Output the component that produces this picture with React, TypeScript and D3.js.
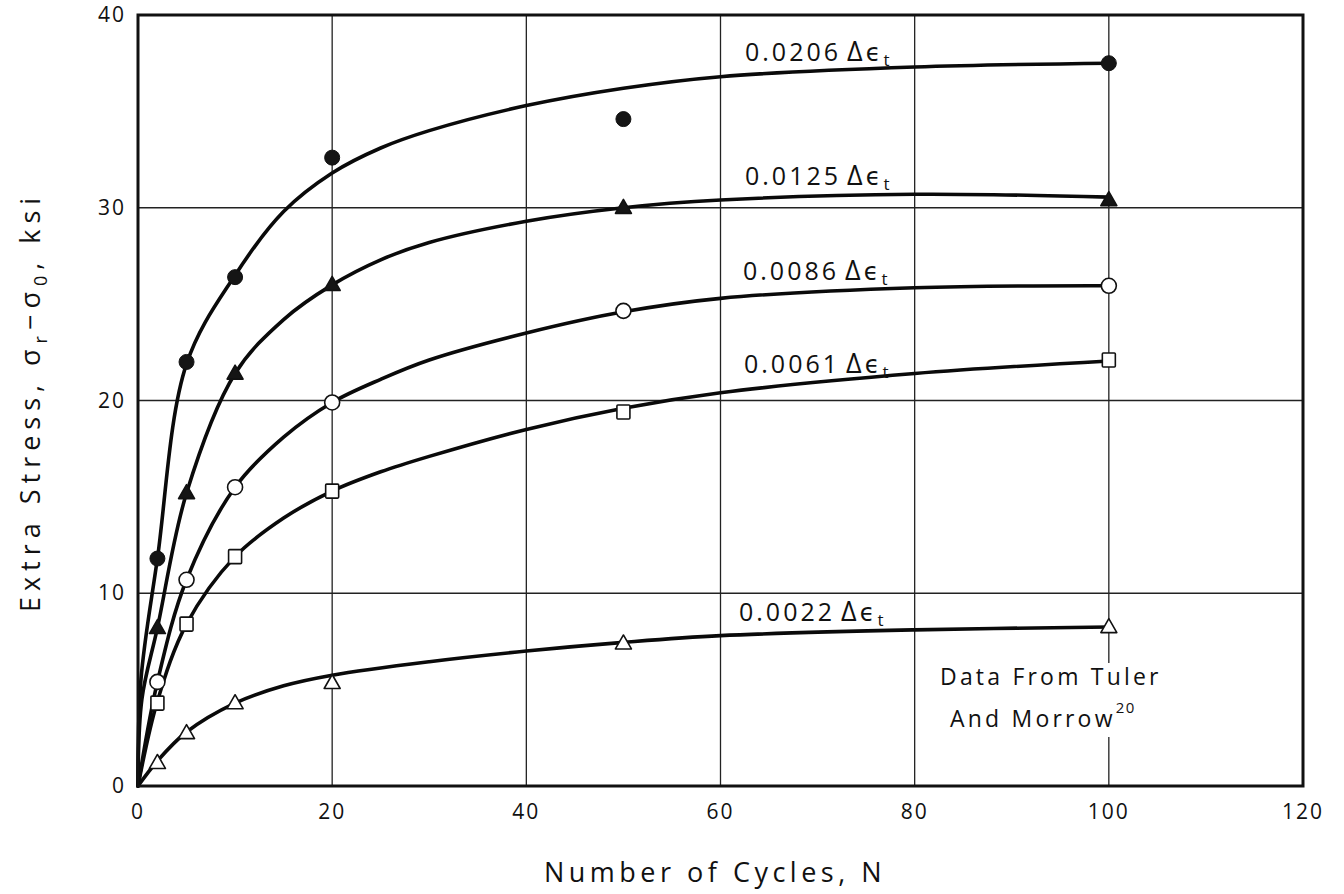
import React from "react";
import * as d3 from "d3";

// Cycle counts at which stresses were measured
const CYCLES = [2, 5, 10, 20, 50, 100];

// Measured extra stress (ksi) for each total strain range
const STRESS_0206 = [11.8, 22.0, 26.4, 32.6, 34.6, 37.5];
const STRESS_0125 = [8.2, 15.2, 21.4, 26.0, 30.0, 30.4];
const STRESS_0086 = [5.4, 10.7, 15.5, 19.9, 24.65, 25.95];
const STRESS_0061 = [4.3, 8.4, 11.9, 15.3, 19.4, 22.1];
const STRESS_0022 = [1.2, 2.75, 4.3, 5.35, 7.4, 8.25];

// Hand-faired trend curves, [N, ksi]
const FIT_0206: [number, number][] = [
  [0, 0], [0.3, 5.5], [2, 11.8], [5, 21.9], [10, 26.5], [15, 29.8], [20, 31.8],
  [25, 33.1], [30, 34.0], [40, 35.3], [50, 36.2], [60, 36.8], [80, 37.3], [100, 37.5],
];
const FIT_0125: [number, number][] = [
  [0, 0], [0.4, 4.5], [2, 8.2], [5, 15.2], [10, 21.4], [15, 24.2], [20, 26.0],
  [25, 27.3], [30, 28.2], [40, 29.3], [50, 30.0], [60, 30.4], [80, 30.7], [100, 30.55],
];
const FIT_0086: [number, number][] = [
  [0, 0], [2, 5.4], [5, 10.7], [10, 15.5], [15, 18.1], [20, 19.9], [25, 21.1],
  [30, 22.1], [40, 23.5], [50, 24.6], [60, 25.3], [80, 25.85], [100, 25.95],
];
const FIT_0061: [number, number][] = [
  [0, 0], [2, 4.4], [5, 8.4], [10, 11.9], [15, 13.9], [20, 15.3], [25, 16.3],
  [30, 17.1], [40, 18.5], [50, 19.6], [60, 20.4], [80, 21.4], [100, 22.05],
];
const FIT_0022: [number, number][] = [
  [0, 0], [2, 1.3], [5, 2.8], [10, 4.3], [15, 5.2], [20, 5.75], [30, 6.45],
  [40, 7.0], [50, 7.45], [60, 7.8], [80, 8.1], [100, 8.25],
];

// Curve label values (total strain range)
const STRAIN_LABELS = ["0.0206", "0.0125", "0.0086", "0.0061", "0.0022"];

const X_TICKS = [0, 20, 40, 60, 80, 100, 120];
const Y_TICKS = [0, 10, 20, 30, 40];

type Marker = "filledCircle" | "filledTriangle" | "openCircle" | "openSquare" | "openTriangle";

const SERIES = [
  { values: STRESS_0206, fit: FIT_0206, marker: "filledCircle" as Marker, label: STRAIN_LABELS[0], lx: 745, ly: 52 },
  { values: STRESS_0125, fit: FIT_0125, marker: "filledTriangle" as Marker, label: STRAIN_LABELS[1], lx: 745, ly: 176 },
  { values: STRESS_0086, fit: FIT_0086, marker: "openCircle" as Marker, label: STRAIN_LABELS[2], lx: 743, ly: 271 },
  { values: STRESS_0061, fit: FIT_0061, marker: "openSquare" as Marker, label: STRAIN_LABELS[3], lx: 744, ly: 364 },
  { values: STRESS_0022, fit: FIT_0022, marker: "openTriangle" as Marker, label: STRAIN_LABELS[4], lx: 739, ly: 612 },
];

const LEFT = 138;
const RIGHT = 1303;
const TOP = 15;
const BOTTOM = 786;

const FONT = "'Open Sans', 'DejaVu Sans', sans-serif";

function MarkerShape({ kind, cx, cy }: { kind: Marker; cx: number; cy: number }) {
  const stroke = "#111";
  switch (kind) {
    case "filledCircle":
      return <circle cx={cx} cy={cy} r={7.5} fill="#151515" stroke={stroke} strokeWidth={1} />;
    case "openCircle":
      return <circle cx={cx} cy={cy} r={7.5} fill="#fff" stroke={stroke} strokeWidth={1.6} />;
    case "openSquare":
      return <rect x={cx - 6.5} y={cy - 7} width={13} height={14} fill="#fff" stroke={stroke} strokeWidth={1.6} rx={1} />;
    case "filledTriangle":
    case "openTriangle": {
      const h = 14;
      const w = 16;
      const d = `M${cx},${cy - h * 0.6}L${cx + w / 2},${cy + h * 0.4}L${cx - w / 2},${cy + h * 0.4}Z`;
      return (
        <path
          d={d}
          fill={kind === "filledTriangle" ? "#151515" : "#fff"}
          stroke={stroke}
          strokeWidth={1.6}
          strokeLinejoin="round"
        />
      );
    }
  }
}

export default function App() {
  const x = d3.scaleLinear().domain([0, 120]).range([LEFT, RIGHT]);
  const y = d3.scaleLinear().domain([0, 40]).range([BOTTOM, TOP]);

  const line = d3
    .line<[number, number]>()
    .x((d) => x(d[0]))
    .y((d) => y(d[1]))
    .curve(d3.curveCatmullRom.alpha(0.5));

  return (
    <svg width={1344} height={894} style={{ display: "block", position: "absolute", left: 0, top: 0, background: "#fff" }}>
      <rect x={0} y={0} width={1344} height={894} fill="#fff" />

      {/* grid */}
      <g stroke="#222" strokeWidth={1.3}>
        {X_TICKS.filter((t) => t > 0 && t < 120).map((t) => (
          <line key={`gx${t}`} x1={x(t)} x2={x(t)} y1={TOP} y2={BOTTOM} />
        ))}
        {Y_TICKS.filter((t) => t > 0 && t < 40).map((t) => (
          <line key={`gy${t}`} x1={LEFT} x2={RIGHT} y1={y(t)} y2={y(t)} />
        ))}
      </g>

      {/* source note, knocking out the grid behind it */}
      <rect x={1085} y={663} width={70} height={74} fill="#fff" />
      <g fontFamily={FONT} fontSize={23} fill="#111" letterSpacing={3.2}>
        <text x={940} y={685}>Data From Tuler</text>
        <text x={950} y={727}>
          And Morrow
          <tspan dy={-14} fontSize={15} letterSpacing={1.5}>20</tspan>
        </text>
      </g>

      {/* faired curves */}
      <g fill="none" stroke="#0a0a0a" strokeWidth={3.6} strokeLinecap="round">
        {SERIES.map((s) => (
          <path key={`c${s.label}`} d={line(s.fit) ?? ""} />
        ))}
      </g>

      {/* frame */}
      <rect x={LEFT} y={TOP} width={RIGHT - LEFT} height={BOTTOM - TOP} fill="none" stroke="#111" strokeWidth={3} />

      {/* data points */}
      {SERIES.map((s) => (
        <g key={`m${s.label}`}>
          {s.values.map((v, i) => (
            <MarkerShape key={i} kind={s.marker} cx={x(CYCLES[i])} cy={y(v)} />
          ))}
        </g>
      ))}

      {/* curve labels */}
      <g fontFamily={FONT} fontSize={25} fill="#111" letterSpacing={3}>
        {SERIES.map((s) => (
          <text key={`l${s.label}`} x={s.lx} y={s.ly + 9}>
            {s.label}
            <tspan dx={6} fontSize={27}>Δ</tspan>
            <tspan dx={0} fontSize={24}>ϵ</tspan>
            <tspan dy={5} fontSize={17}>t</tspan>
          </text>
        ))}
      </g>

      {/* tick labels */}
      <g fontFamily={FONT} fontSize={21} fill="#111" letterSpacing={2}>
        {X_TICKS.map((t) => (
          <text key={`tx${t}`} x={x(t)} y={BOTTOM + 33} textAnchor="middle">
            {t}
          </text>
        ))}
        {Y_TICKS.map((t) => (
          <text key={`ty${t}`} x={LEFT - 12} y={y(t) + 7} textAnchor="end">
            {t}
          </text>
        ))}
      </g>

      {/* axis titles */}
      <text x={715} y={882} textAnchor="middle" fontFamily={FONT} fontSize={27} fill="#111" letterSpacing={4.5}>
        Number of Cycles, N
      </text>
      <text
        transform={`translate(40, 402) rotate(-90)`}
        textAnchor="middle"
        fontFamily={FONT}
        fontSize={27}
        fill="#111"
        letterSpacing={6}
      >
        Extra Stress, σ
        <tspan dy={7} fontSize={18}>r</tspan>
        <tspan dy={-7}>−σ</tspan>
        <tspan dy={7} fontSize={18}>0</tspan>
        <tspan dy={-7}>, ksi</tspan>
      </text>
    </svg>
  );
}
